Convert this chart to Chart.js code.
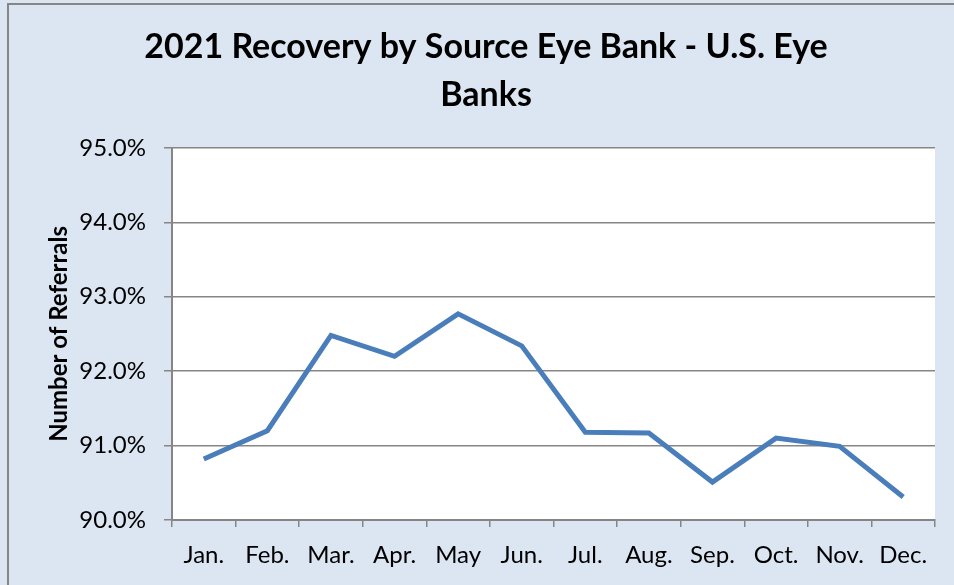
<!DOCTYPE html>
<html lang="en">
<head>
    <meta charset="UTF-8">
    <title>2021 Recovery by Source Eye Bank</title>
    <script src="https://cdn.jsdelivr.net/npm/chart.js"></script>
    <style>
        body { margin: 0; background: #dce6f2; }
        .chart-container { position: relative; width: 954px; height: 585px; }
    </style>
</head>
<body>
    <div class="chart-container">
        <canvas id="recoveryChart"></canvas>
    </div>

    <script>
        // Monthly recovery rate (%) - U.S. eye banks, 2021
        const months = ['Jan.', 'Feb.', 'Mar.', 'Apr.', 'May', 'Jun.', 'Jul.', 'Aug.', 'Sep.', 'Oct.', 'Nov.', 'Dec.'];
        const recoveryRate = [90.82, 91.20, 92.48, 92.20, 92.77, 92.34, 91.18, 91.17, 90.51, 91.10, 90.99, 90.31];
        const yTicks = [90, 91, 92, 93, 94, 95];

        // panel background, outer border and white plot area
        const panelBackground = {
            id: 'panelBackground',
            beforeDraw(chart) {
                const ctx = chart.ctx;
                const a = chart.chartArea;
                ctx.save();
                ctx.fillStyle = '#dce6f2';
                ctx.fillRect(0, 0, chart.width, chart.height);
                ctx.strokeStyle = '#868686';
                ctx.lineWidth = 2;
                ctx.strokeRect(8, 4, chart.width + 20, chart.height + 20);
                ctx.fillStyle = '#ffffff';
                ctx.fillRect(a.left, a.top, a.right - a.left, a.bottom - a.top);
                ctx.restore();
            }
        };

        const ctx = document.getElementById('recoveryChart').getContext('2d');
        new Chart(ctx, {
            type: 'line',
            data: {
                labels: months,
                datasets: [{
                    label: 'Recovery',
                    data: recoveryRate,
                    borderColor: '#4a7ebb',
                    borderWidth: 5,
                    pointRadius: 0,
                    tension: 0,
                    fill: false
                }]
            },
            plugins: [panelBackground],
            options: {
                responsive: true,
                maintainAspectRatio: false,
                animation: false,
                layout: { padding: { left: 37, right: 19, top: 0, bottom: 0 } },
                scales: {
                    x: {
                        offset: true,
                        grid: { offset: true, drawOnChartArea: false, color: '#868686', lineWidth: 1.5, tickLength: 7 },
                        border: { color: '#868686', width: 2 },
                        ticks: { color: '#000', font: { family: 'Lato', size: 24 }, padding: 14, maxRotation: 0 },
                        afterFit(s) { s.height = 65; }
                    },
                    y: {
                        min: 90,
                        max: 95,
                        afterBuildTicks(s) { s.ticks = yTicks.map(v => ({ value: v })); },
                        grid: { color: '#868686', lineWidth: 1.5, tickLength: 8 },
                        border: { color: '#868686', width: 2 },
                        ticks: {
                            color: '#000',
                            font: { family: 'Lato', size: 24 },
                            padding: 18,
                            callback: v => v.toFixed(1) + '%'
                        },
                        title: {
                            display: true,
                            text: 'Number of Referrals',
                            color: '#000',
                            font: { family: 'Lato', size: 24, weight: 'bold' },
                            padding: { top: 8, bottom: 0 }
                        },
                        afterFit(s) { s.width = 135; }
                    }
                },
                plugins: {
                    legend: { display: false },
                    tooltip: { enabled: false },
                    title: {
                        display: true,
                        text: ['2021 Recovery by Source Eye Bank - U.S. Eye', 'Banks'],
                        color: '#000',
                        font: { family: 'Lato', size: 34, weight: 'bold', lineHeight: 1.41 },
                        padding: { top: 23, bottom: 29 }
                    }
                }
            }
        });
    </script>
</body>
</html>
